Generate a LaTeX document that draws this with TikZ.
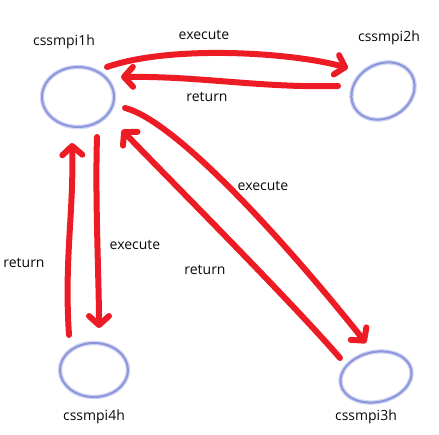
\documentclass[tikz,border=0pt]{standalone}
\usepackage{fontspec}
\setmainfont{Open Sans}
\usetikzlibrary{arrows.meta,shapes.geometric}
\definecolor{penred}{RGB}{237,28,36}
\definecolor{ellblue}{RGB}{140,150,218}
\definecolor{ellsoft}{RGB}{210,214,244}
\definecolor{txt}{RGB}{10,10,10}
\tikzset{
  host/.style={ellipse, inner sep=0pt, draw=ellblue, line width=2pt,
    preaction={draw=ellsoft, line width=4.5pt}},
  lbl/.style={font=\fontsize{14}{16}\selectfont, text=txt, inner sep=0pt},
  pen/.style={draw=penred, line width=6pt, line cap=round, line join=round,
    -{Straight Barb[length=9pt,width=20pt,round]}}
}
\begin{document}
\begin{tikzpicture}[x=1pt,y=-1pt]
\useasboundingbox (0,0) rectangle (439,435);
% hosts
\node[host, minimum width=72pt, minimum height=60pt] (h1) at (78,97) {};
\node[host, minimum width=66pt, minimum height=54pt, rotate=30] (h2) at (383,91) {};
\node[host, minimum width=68pt, minimum height=54pt] (h4) at (94,370) {};
\node[host, minimum width=72pt, minimum height=50pt, rotate=12] (h3) at (376,377) {};
% host labels
\node[lbl] (t1) at (64,42) {cssmpi1h};
\node[lbl] (t2) at (389,38) {cssmpi2h};
\node[lbl] (t4) at (94,417) {cssmpi4h};
\node[lbl] (t3) at (366,417) {cssmpi3h};
% connectors
\draw[pen] ([shift={(29,-30)}]h1.center) .. controls (170,45) and (290,52) .. ([shift={(-35,-23)}]h2.center);
\draw[pen] ([shift={(-45,-5)}]h2.center) .. controls (260,88) and (200,76) .. ([shift={(43,-20)}]h1.center);
\draw[pen] ([shift={(19,40)}]h1.center) .. controls (95,200) and (99,280) .. ([shift={(5,-42)}]h4.center);
\draw[pen] ([shift={(-25,-35)}]h4.center) .. controls (64,260) and (74,210) .. ([shift={(-6,46)}]h1.center);
\draw[pen] ([shift={(47,11)}]h1.center) .. controls (180,122) and (300,260) .. ([shift={(-10,-34)}]h3.center);
\draw[pen] ([shift={(-36,-19)}]h3.center) .. controls (290,300) and (160,170) .. ([shift={(44,33)}]h1.center);
% connector labels
\node[lbl] (l1) at (204,35) {execute};
\node[lbl] (l2) at (207,97) {return};
\node[lbl] (l3) at (263,186) {execute};
\node[lbl] (l4) at (205,270) {return};
\node[lbl] (l5) at (135,245) {execute};
\node[lbl] (l6) at (24,263) {return};
\end{tikzpicture}
\end{document}
